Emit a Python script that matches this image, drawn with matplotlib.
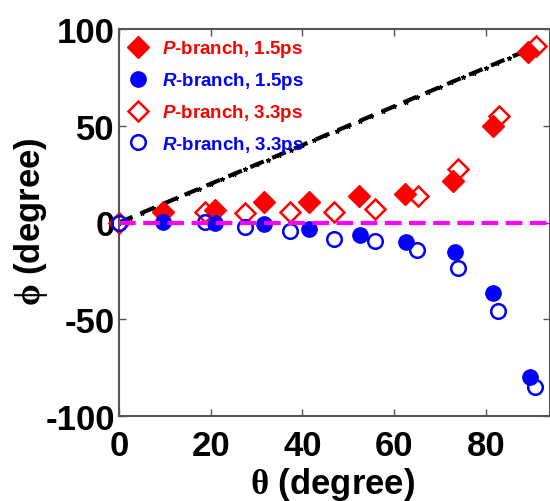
import matplotlib
matplotlib.use("Agg")
import matplotlib.pyplot as plt

plt.rcParams['font.family'] = ['Liberation Sans', 'DejaVu Sans']
plt.rcParams['font.weight'] = 'bold'
plt.rcParams['mathtext.fontset'] = 'custom'
plt.rcParams['mathtext.it'] = 'Liberation Sans:italic:bold'
plt.rcParams['mathtext.rm'] = 'Liberation Serif'
plt.rcParams['axes.unicode_minus'] = False

# Data (theta in degree, phi in degree)
p15_x = [9.6, 21.0, 31.7, 41.5, 52.4, 62.4, 72.8, 81.5, 89.3]
p15_y = [5.4, 6.5, 10.5, 10.5, 13.7, 14.7, 21.4, 49.9, 88.0]
r15_x = [9.6, 21.0, 31.7, 41.5, 52.6, 62.6, 73.3, 81.5, 89.6]
r15_y = [0.3, 0.0, -1.0, -3.5, -6.5, -10.0, -15.2, -36.4, -80.0]
p33_x = [0.0, 18.7, 27.4, 37.2, 46.8, 55.9, 65.2, 73.9, 82.8, 91.0]
p33_y = [0.0, 5.4, 4.8, 5.5, 5.4, 7.0, 13.7, 27.6, 55.0, 91.0]
r33_x = [0.0, 18.7, 27.4, 37.2, 46.8, 55.9, 65.0, 73.9, 82.6, 90.7]
r33_y = [0.0, 0.5, -2.5, -4.5, -8.5, -9.6, -14.2, -23.5, -45.7, -85.0]

ref_x = [0, 2.5, 5, 7.5, 10, 12.5, 15, 17.5, 20, 22.5, 25, 27.5, 30, 32.5, 35,
         37.5, 40, 42.5, 45, 47.5, 50, 52.5, 55, 57.5, 60, 62.5, 65, 67.5, 70,
         72.5, 75, 77.5, 80, 82.5, 85, 87.5, 90]
ref_y = list(ref_x)  # phi = theta reference
zero_x = [0, 94]
zero_y = [0, 0]

labels = [r'$P$-branch, 1.5ps', r'$R$-branch, 1.5ps',
          r'$P$-branch, 3.3ps', r'$R$-branch, 3.3ps']
xticks = [0, 20, 40, 60, 80]
yticks = [-100, -50, 0, 50, 100]

fig = plt.figure(figsize=(5.5, 5.02), dpi=100)
ax = fig.add_axes([119/550, 1-417/502, (550-119)/550, (417-30)/502])

ax.plot(ref_x, ref_y, color='black', ls=(0, (3.5, 2.2)), lw=3, marker='*',
        ms=3.5, mew=0.8, zorder=2)

h1, = ax.plot(p15_x, p15_y, ls='none', marker='D', ms=11, color='red',
              mec='red', zorder=3, label=labels[0], clip_on=False)
h2, = ax.plot(r15_x, r15_y, ls='none', marker='o', ms=11, color='blue',
              mec='blue', zorder=3, label=labels[1], clip_on=False)
h3, = ax.plot(p33_x, p33_y, ls='none', marker='D', ms=10, mfc='none',
              mec='red', mew=1.8, zorder=4, label=labels[2], clip_on=False)
h4, = ax.plot(r33_x, r33_y, ls='none', marker='o', ms=10.5, mfc='none',
              mec='blue', mew=1.8, zorder=4, label=labels[3], clip_on=False)

ax.plot(zero_x, zero_y, color='#ff00ff', ls=(0, (4, 1.8)), lw=3, zorder=5)

ax.set_xlim(0, 94)
ax.set_ylim(-100, 100)
ax.set_xticks(xticks)
ax.set_yticks(yticks)
ax.tick_params(direction='in', length=5, width=1, color='#555555',
               top=True, right=True, labelsize=25)
ax.tick_params(axis='x', pad=9)
ax.tick_params(axis='y', pad=3)
for lab in ax.get_xticklabels() + ax.get_yticklabels():
    lab.set_fontweight('bold')
for s in ax.spines.values():
    s.set_color('#555555')
    s.set_linewidth(1.5)

ax.set_xlabel(r'$\mathrm{\theta}$ (degree)', fontsize=25, fontweight='bold')
ax.set_ylabel(r'$\mathrm{\phi}$ (degree)', fontsize=25, fontweight='bold')
ax.xaxis.set_label_coords((333 - 119) / 431, -(466 - 417) / 387)
ax.yaxis.set_label_coords(-(119 - 50) / 431, (417 - 222) / 387)

leg = ax.legend(handles=[h1, h2, h3, h4], loc='upper left', frameon=False,
                handlelength=1.0, handletextpad=0.8,
                labelspacing=0.58, borderaxespad=0.15, borderpad=0.35,
                prop={'weight': 'bold', 'size': 13.5})
for t, c in zip(leg.get_texts(), ['red', 'blue', 'red', 'blue']):
    t.set_color(c)

fig.savefig('out.png', dpi=100)
